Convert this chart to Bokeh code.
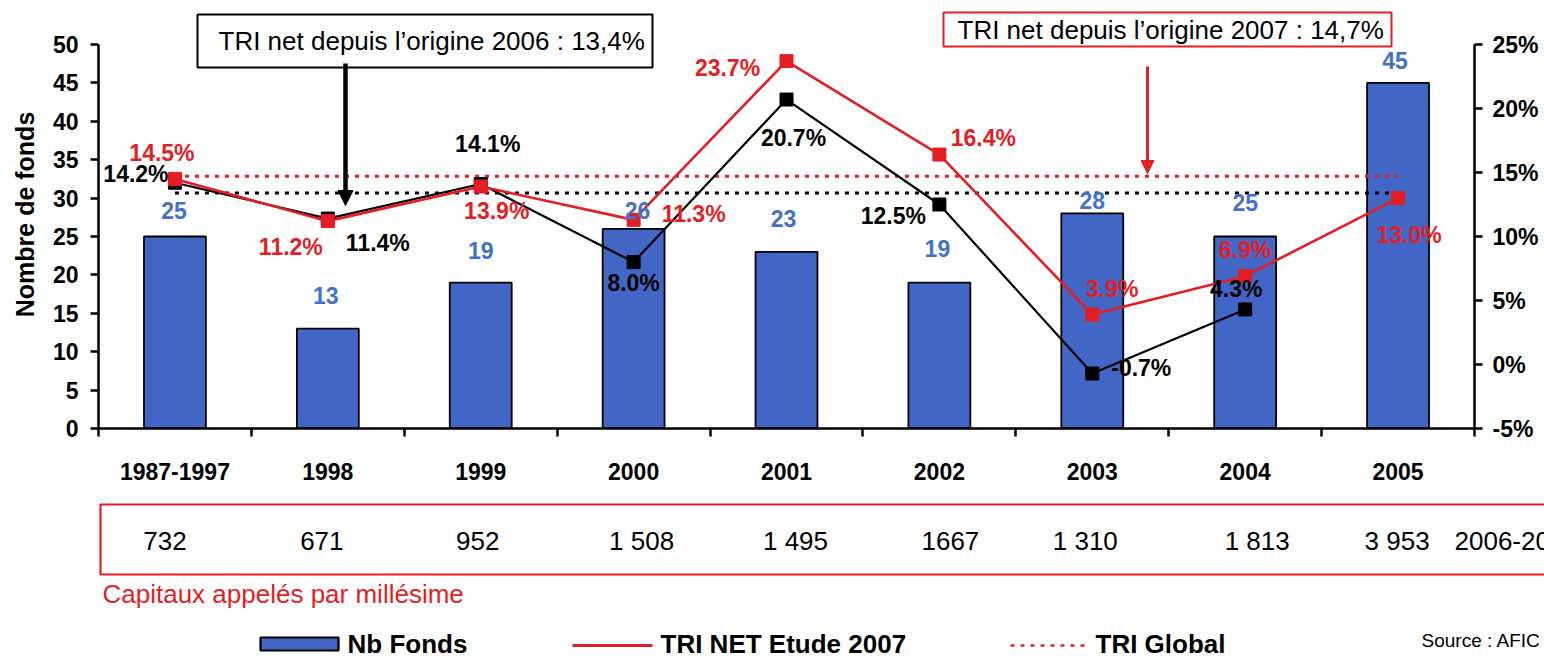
from bokeh.plotting import figure
from bokeh.models import (Range1d, LinearAxis, FixedTicker, Arrow, NormalHead,
                          PrintfTickFormatter)
from bokeh.layouts import column
from bokeh.embed import file_html
from bokeh.resources import INLINE
from bokeh.core.properties import value

# ---------------- data ----------------
categories = ["1987-1997", "1998", "1999", "2000", "2001", "2002", "2003", "2004", "2005"]
nb_fonds = [25, 13, 19, 26, 23, 19, 28, 25, 45]
tri_net_2007 = [14.5, 11.2, 13.9, 11.3, 23.7, 16.4, 3.9, 6.9, 13.0]
tri_net_2006 = [14.2, 11.4, 14.1, 8.0, 20.7, 12.5, -0.7, 4.3]
tri_global_2007 = 14.7
tri_global_2006 = 13.4
capitaux = ["732", "671", "952", "1 508", "1 495", "1667", "1 310", "1 813", "3 953"]
capitaux_next = "2006-2007"
left_ticks = [0, 5, 10, 15, 20, 25, 30, 35, 40, 45, 50]
right_ticks = [-5, 0, 5, 10, 15, 20, 25]

# ---------------- styles / layout ----------------
BLUE = "#4266C5"
BLUE_TXT = "#4472C4"
RED = "#E31E24"
FONT = "Liberation Sans"
W = 1544
H_TOP = 490
H_BOT = 168
FL, FR, FT, FB = 98, 1474, 44, 428          # page pixel positions of the plot area
PX = (FR - FL) / 9.0
PY_L = (FB - FT) / 50.0
PY_R = (FB - FT) / 30.0


def dx(px):
    return (px - FL) / PX


def dyl(py):
    return (FB - py) / PY_L


xc = [i + 0.5 for i in range(len(categories))]

# label offsets (pixels)
bar_lbl_dx = [-1, -2, 0, 4, -3, -2, 0, 0, -3]
bar_lbl_dy = [-26, -33, -32, -18, -33, -34, -13, -34, -22]
red_dx = [-13, -37, 16, 60, -59, 44, 20, 0, 11]
red_dy = [-26, 26, 24, -6, 7, -17, -26, -26, 37]
blk_dx = [-39, 50, 7, 0, 7, -46, 49, -9]
blk_dy = [-9, 24, -40, 21, 38, 11, -5, -20]
cap_dx = [-10, -6, -3, 8, 9, 11, -7, 12, -1]

# ---------------- top figure ----------------
p = figure(width=W, height=H_TOP, x_range=Range1d(0, 9), y_range=Range1d(0, FB / PY_L),
           output_backend="svg", toolbar_location=None,
           min_border_left=FL, min_border_right=W - FR,
           min_border_top=0, min_border_bottom=H_TOP - FB)
p.outline_line_color = None
p.xgrid.grid_line_color = None
p.ygrid.grid_line_color = None
p.extra_y_ranges = {"pct": Range1d(-5, FB / PY_R - 5)}

# x axis
xa = p.xaxis[0]
xa.ticker = FixedTicker(ticks=xc, minor_ticks=list(range(10)))
xa.major_label_overrides = {x: c for x, c in zip(xc, categories)}
xa.major_tick_out = 0
xa.major_tick_in = 0
xa.minor_tick_out = 8
xa.minor_tick_in = 0
xa.minor_tick_line_width = 2.5
xa.minor_tick_line_color = "black"
xa.axis_line_width = 2.5
xa.axis_line_color = "black"
xa.major_label_text_font = FONT
xa.major_label_text_font_style = "bold"
xa.major_label_text_font_size = "23px"
xa.major_label_text_color = "black"
xa.major_label_standoff = 26

# left axis
ya = p.yaxis[0]
ya.ticker = FixedTicker(ticks=left_ticks)
ya.bounds = (0, 50)
ya.minor_tick_line_color = None
ya.major_tick_out = 8
ya.major_tick_in = 0
ya.major_tick_line_width = 2.5
ya.major_tick_line_color = "black"
ya.axis_line_width = 2.5
ya.axis_line_color = "black"
ya.major_label_text_font = FONT
ya.major_label_text_font_style = "bold"
ya.major_label_text_font_size = "23px"
ya.major_label_text_color = "black"
ya.major_label_standoff = 12
ya.axis_label = "Nombre de fonds"
ya.axis_label_text_font = FONT
ya.axis_label_text_font_style = "bold"
ya.axis_label_text_font_size = "25px"
ya.axis_label_text_color = "black"
ya.axis_label_standoff = 11

# right axis
ra = LinearAxis(y_range_name="pct", ticker=FixedTicker(ticks=right_ticks),
                formatter=PrintfTickFormatter(format="%d%%"), bounds=(-5, 25))
ra.minor_tick_line_color = None
ra.major_tick_out = 8
ra.major_tick_in = 0
ra.major_tick_line_width = 2.5
ra.major_tick_line_color = "black"
ra.axis_line_width = 2.5
ra.axis_line_color = "black"
ra.major_label_text_font = FONT
ra.major_label_text_font_style = "bold"
ra.major_label_text_font_size = "23px"
ra.major_label_text_color = "black"
ra.major_label_standoff = 10
p.add_layout(ra, "right")

# bars
p.vbar(x=xc, top=nb_fonds, width=0.405, fill_color=BLUE, line_color="black", line_width=1.8)

# global TRI dotted lines
p.line(x=[xc[0], xc[-1]], y=[tri_global_2006] * 2, y_range_name="pct",
       line_color="black", line_width=3, line_dash="4 6")
p.line(x=[xc[0], xc[-1]], y=[tri_global_2007] * 2, y_range_name="pct",
       line_color=RED, line_width=3, line_dash="4 6")

# TRI net lines
xb = xc[:len(tri_net_2006)]
p.line(x=xb, y=tri_net_2006, y_range_name="pct", line_color="black", line_width=2.2)
p.scatter(x=xb, y=tri_net_2006, y_range_name="pct", marker="square", size=13,
          fill_color="black", line_color="black")
p.line(x=xc, y=tri_net_2007, y_range_name="pct", line_color=RED, line_width=2.6)
p.scatter(x=xc, y=tri_net_2007, y_range_name="pct", marker="square", size=13,
          fill_color=RED, line_color=RED)

# labels
p.text(x=xc, y=nb_fonds, text=[str(v) for v in nb_fonds], x_offset=bar_lbl_dx, y_offset=bar_lbl_dy,
       text_align="center", text_baseline="middle", text_color=BLUE_TXT,
       text_font=value(FONT), text_font_style="bold", text_font_size="23px")
p.text(x=xb, y=tri_net_2006, y_range_name="pct", text=[f"{v:.1f}%" for v in tri_net_2006],
       x_offset=blk_dx, y_offset=blk_dy, text_align="center", text_baseline="middle",
       text_color="black", text_font=value(FONT), text_font_style="bold", text_font_size="23px")
p.text(x=xc, y=tri_net_2007, y_range_name="pct", text=[f"{v:.1f}%" for v in tri_net_2007],
       x_offset=red_dx, y_offset=red_dy, text_align="center", text_baseline="middle",
       text_color=RED, text_font=value(FONT), text_font_style="bold", text_font_size="23px")

# annotation boxes (callouts)
p.quad(left=[dx(197), dx(943)], right=[dx(652), dx(1391)], top=[dyl(14), dyl(12)],
       bottom=[dyl(67), dyl(46)], fill_color="white", line_color=["black", RED], line_width=2)
p.text(x=[dx(218), dx(957)], y=[dyl(40), dyl(29)],
       text=["TRI net depuis l\u2019origine 2006 : 13,4%", "TRI net depuis l\u2019origine 2007 : 14,7%"],
       text_align="left", text_baseline="middle", text_color="black",
       text_font=value(FONT), text_font_size="26px")
p.add_layout(Arrow(end=NormalHead(size=15, fill_color="black", line_color="black"),
                   x_start=dx(345), y_start=dyl(63), x_end=dx(345), y_end=dyl(205),
                   line_color="black", line_width=4.5))
p.add_layout(Arrow(end=NormalHead(size=13, fill_color=RED, line_color=RED),
                   x_start=dx(1147), y_start=dyl(66), x_end=dx(1147), y_end=dyl(173),
                   line_color=RED, line_width=3))

# ---------------- bottom figure ----------------
q = figure(width=W, height=H_BOT, x_range=Range1d(dx(0), dx(W)), y_range=Range1d(H_TOP + H_BOT, H_TOP),
           x_axis_type=None, y_axis_type=None, output_backend="svg", toolbar_location=None,
           min_border=0)
q.frame_align = False
q.outline_line_color = None
q.xgrid.grid_line_color = None
q.ygrid.grid_line_color = None

q.quad(left=[dx(100)], right=[dx(1600)], top=[504], bottom=[574], fill_color=None,
       line_color=RED, line_width=2.2)
q.text(x=xc, y=[540] * len(xc), text=capitaux, x_offset=cap_dx, text_align="center",
       text_baseline="middle", text_color="black", text_font=value(FONT), text_font_size="26px")
q.text(x=[dx(1454)], y=[540], text=[capitaux_next], text_align="left", text_baseline="middle",
       text_color="black", text_font=value(FONT), text_font_size="26px")
q.text(x=[dx(102)], y=[593], text=["Capitaux appel\u00e9s par mill\u00e9sime"], text_align="left",
       text_baseline="middle", text_color=RED, text_font=value(FONT), text_font_size="26px")

LEG_Y = 643
q.quad(left=[dx(260)], right=[dx(338)], top=[LEG_Y - 6], bottom=[LEG_Y + 7],
       fill_color=BLUE, line_color="black", line_width=2.2)
q.line(x=[dx(572), dx(652)], y=[LEG_Y + 2, LEG_Y + 2], line_color=RED, line_width=3)
q.line(x=[dx(1010), dx(1085)], y=[LEG_Y + 2, LEG_Y + 2], line_color=RED, line_width=2.5,
       line_dash="4 6")
q.text(x=[dx(347), dx(660), dx(1095)], y=[LEG_Y] * 3,
       text=["Nb Fonds", "TRI NET Etude 2007", "TRI Global"], text_align="left",
       text_baseline="middle", text_color="black", text_font=value(FONT),
       text_font_style="bold", text_font_size="26px")
q.text(x=[dx(1421)], y=[640], text=["Source : AFIC"], text_align="left", text_baseline="middle",
       text_color="black", text_font=value(FONT), text_font_size="19px")

layout = column(p, q, spacing=0)
open("out.html", "w").write(file_html(layout, INLINE))
